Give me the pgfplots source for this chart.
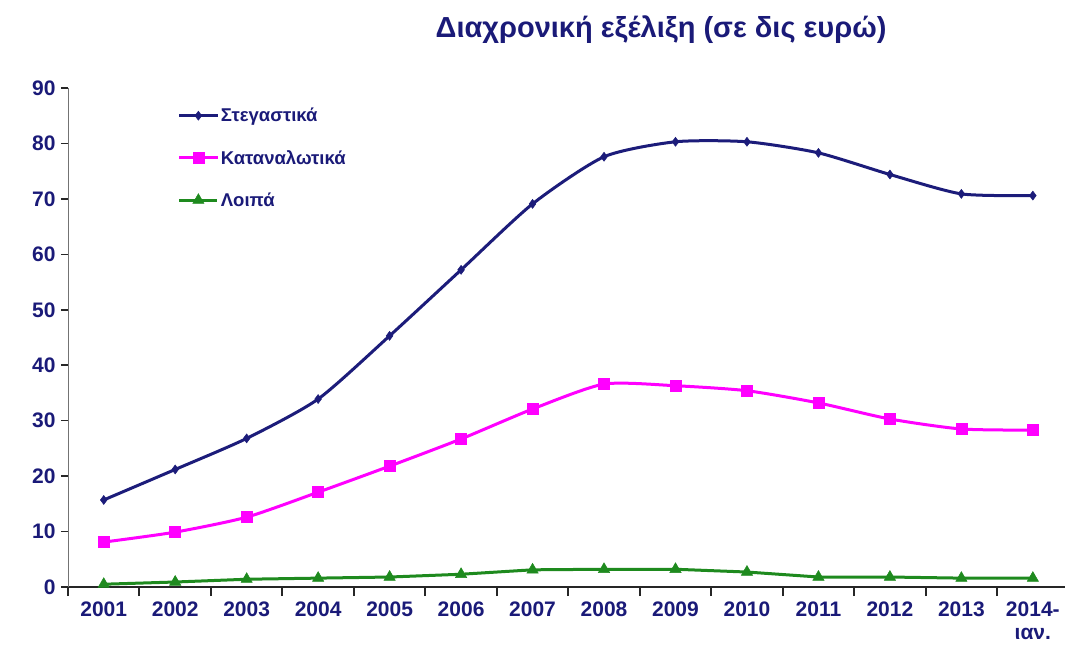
\documentclass[border=0pt]{standalone}
\usepackage{pgfplots}
\pgfplotsset{compat=1.18}
\usepackage{fontspec}
\setmainfont{Liberation Sans}
\definecolor{navy}{HTML}{1C1C7A}
\definecolor{txt}{HTML}{1A1A78}
\definecolor{mag}{HTML}{FF00FF}
\definecolor{grn}{HTML}{1E8A1E}
\pgfplotstableread{
x  st    ka    lo
0  15.7  8.1   0.5
1  21.2  9.9   0.9
2  26.8  12.6  1.4
3  33.9  17.1  1.6
4  45.3  21.8  1.8
5  57.2  26.7  2.3
6  69.1  32.1  3.1
7  77.6  36.6  3.2
8  80.3  36.3  3.2
9  80.3  35.4  2.7
10 78.3  33.2  1.8
11 74.4  30.3  1.8
12 70.9  28.5  1.6
13 70.6  28.3  1.6
}\data
\begin{document}
\begin{tikzpicture}
\begin{axis}[
  at={(0pt,0pt)}, anchor=south west,
  scale only axis, width=997pt, height=499pt,
  xmin=-0.5, xmax=13.45, ymin=0, ymax=90,
  axis x line*=bottom, axis y line*=left,
  x axis line style={line width=2pt, color=black!85},
  y axis line style={line width=1pt, color=black!55},
  xtick={0,...,13},
  xticklabels={2001,2002,2003,2004,2005,2006,2007,2008,2009,2010,2011,2012,2013,{2014-\\ιαν.}},
  x tick label style={align=center, font=\fontsize{21}{23}\selectfont\bfseries, text=txt, yshift=-4pt},
  minor xtick={-0.5,0.5,...,12.5},
  major x tick style={draw=none},
  minor x tick style={line width=2pt, black!85},
  minor tick length=9pt,
  ytick={0,10,...,90},
  y tick label style={font=\fontsize{21}{23}\selectfont\bfseries, text=txt, xshift=-2pt},
  major y tick style={line width=1.5pt, black!85},
  major tick length=7pt,
  tick align=outside,
  /pgf/number format/assume math mode=true,
  legend style={at={(rel axis cs:0.11,0.964)}, anchor=north west, draw=none, fill=none,
    font=\fontsize{18.5}{21}\selectfont\bfseries, text=txt, row sep=23pt, inner sep=0pt},
  legend cell align=left,
  legend image code/.code={\draw[mark repeat=2,mark phase=2,#1] plot coordinates {(0pt,0pt) (19pt,0pt) (38pt,0pt)};},
]
\addplot[navy, line width=3pt, smooth, tension=0.4, mark=diamond*, mark size=4.5pt, mark options={line width=0.5pt}] table[x=x,y=st]{\data};
\addlegendentry{Στεγαστικά}
\addplot[mag, line width=3pt, smooth, tension=0.4, mark=square*, mark size=5.5pt, mark options={line width=0.5pt}] table[x=x,y=ka]{\data};
\addlegendentry{Καταναλωτικά}
\addplot[grn, line width=3pt, mark=triangle*, mark size=6.5pt, mark options={line width=0.5pt}] table[x=x,y=lo]{\data};
\addlegendentry{Λοιπά}
\end{axis}
\node[font=\fontsize{29}{34}\selectfont\bfseries, text=txt] at (593pt,557pt) {Διαχρονική εξέλιξη (σε δις ευρώ)};
\pgfresetboundingbox
\useasboundingbox (-68pt,-59pt) rectangle (1000pt,587pt);
\end{tikzpicture}
\end{document}
